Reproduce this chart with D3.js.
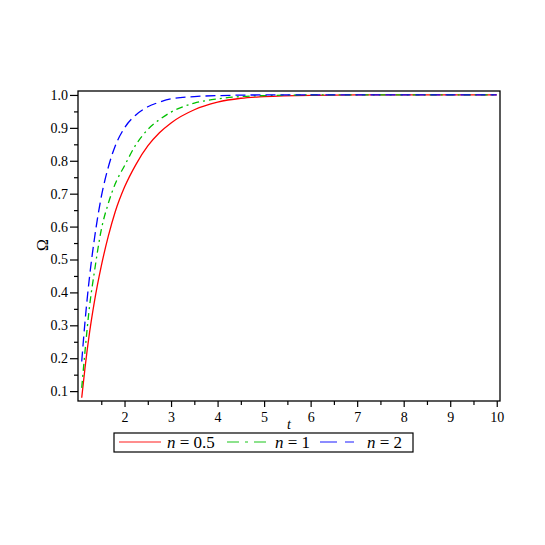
<!DOCTYPE html>
<html lang="en">
<head>
<meta charset="UTF-8">
<title>Omega vs t</title>
<script src="https://d3js.org/d3.v7.min.js"></script>
<style>
  body { margin: 0; background: #fff; }
</style>
</head>
<body>
<div id="chart"></div>
<script>
// values
const tRed   = [1.08, 1.15, 1.25, 1.35, 1.5, 1.65, 1.8, 2.0, 2.25, 2.5, 2.75, 3.0, 3.5, 4.0, 4.5, 5.0, 6.0, 7.0, 8.0, 9.0, 10.0];
const omRed  = [0.08, 0.17, 0.28, 0.37, 0.48, 0.57, 0.645, 0.72, 0.79, 0.845, 0.885, 0.915, 0.955, 0.978, 0.99, 0.995, 0.999, 1.0, 1.0, 1.0, 1.0];
const tGreen  = [1.08, 1.15, 1.25, 1.35, 1.5, 1.65, 1.8, 2.0, 2.25, 2.5, 2.75, 3.0, 3.5, 4.0, 4.5, 5.0, 6.0, 7.0, 8.0, 9.0, 10.0];
const omGreen = [0.11, 0.22, 0.36, 0.46, 0.59, 0.67, 0.73, 0.785, 0.85, 0.895, 0.925, 0.948, 0.975, 0.988, 0.995, 0.998, 1.0, 1.0, 1.0, 1.0, 1.0];
const tBlue  = [1.08, 1.15, 1.25, 1.35, 1.5, 1.65, 1.8, 2.0, 2.25, 2.5, 2.75, 3.0, 3.5, 4.0, 5.0, 6.0, 7.0, 8.0, 9.0, 10.0];
const omBlue = [0.19, 0.31, 0.45, 0.56, 0.69, 0.78, 0.845, 0.9, 0.94, 0.964, 0.978, 0.988, 0.995, 0.998, 1.0, 1.0, 1.0, 1.0, 1.0, 1.0];

const xTicks = [2, 3, 4, 5, 6, 7, 8, 9, 10];
const xMinor = [1.5, 2.5, 3.5, 4.5, 5.5, 6.5, 7.5, 8.5, 9.5];
const yTicks = [0.1, 0.2, 0.3, 0.4, 0.5, 0.6, 0.7, 0.8, 0.9, 1.0];
const yMinor = [0.15, 0.25, 0.35, 0.45, 0.55, 0.65, 0.75, 0.85, 0.95];

const legendNames = ["0.5", "1", "2"];

const W = 545, H = 545;
const L = 78, R = 500, T = 91, B = 401;
const serif = "Liberation Serif";

const svg = d3.select("#chart").append("svg")
  .attr("width", W).attr("height", H);

const x = d3.scaleLinear().domain([1, 10.07]).range([L, R]);
const y = d3.scaleLinear().domain([0.07, 1.012]).range([B, T]);

// frame
svg.append("rect")
  .attr("x", L).attr("y", T).attr("width", R - L).attr("height", B - T)
  .attr("fill", "none").attr("stroke", "#000").attr("stroke-width", 1.3);

// x axis
const gx = svg.append("g").attr("transform", `translate(0,${B})`);
gx.call(d3.axisBottom(x).tickValues(xTicks).tickSize(6).tickPadding(4).tickFormat(d3.format("d")));
gx.append("g").call(d3.axisBottom(x).tickValues(xMinor).tickSize(4).tickFormat(""));
gx.selectAll(".domain").remove();
gx.selectAll("text").attr("font-size", 14).attr("fill", "#000")
  .attr("font-family", serif).attr("dy", "0.8em");

// y axis
const gy = svg.append("g").attr("transform", `translate(${L},0)`);
gy.call(d3.axisLeft(y).tickValues(yTicks).tickSize(8).tickPadding(2).tickFormat(d3.format(".1f")));
gy.append("g").call(d3.axisLeft(y).tickValues(yMinor).tickSize(4).tickFormat(""));
gy.selectAll(".domain").remove();
gy.selectAll("text").attr("font-size", 14).attr("fill", "#000")
  .attr("font-family", serif);

svg.selectAll(".tick line").attr("stroke", "#000").attr("stroke-width", 1.2);

// axis titles
svg.append("text")
  .attr("x", 289).attr("y", 429)
  .attr("text-anchor", "middle").attr("font-size", 14).attr("font-style", "italic")
  .attr("font-family", serif)
  .text("t");
svg.append("text")
  .attr("transform", "translate(48,245) rotate(-90)")
  .attr("text-anchor", "middle").attr("font-size", 16)
  .attr("font-family", serif)
  .text("Ω");

// curves
const series = [
  { t: tRed, v: omRed, color: "#ff0000", dash: null, ldash: null },
  { t: tGreen, v: omGreen, color: "#00c000", dash: "7,4,2,4", ldash: "12,6,3,6" },
  { t: tBlue, v: omBlue, color: "#0000ff", dash: "10,5", ldash: "17,8" }
];

const line = d3.line().curve(d3.curveMonotoneX)
  .x(d => x(d[0])).y(d => y(d[1]));

series.forEach(s => {
  svg.append("path")
    .datum(d3.zip(s.t, s.v))
    .attr("fill", "none")
    .attr("stroke", s.color)
    .attr("stroke-width", 1.3)
    .attr("stroke-dasharray", s.dash)
    .attr("d", line);
});

// legend
const lg = svg.append("g");
lg.append("rect")
  .attr("x", 114).attr("y", 433).attr("width", 299).attr("height", 19)
  .attr("fill", "#fff").attr("stroke", "#000").attr("stroke-width", 1.2);
const lineX = [119, 227, 320];
const lineW = [42, 40, 34];
const textX = [167, 275, 367];
series.forEach((s, i) => {
  lg.append("line")
    .attr("x1", lineX[i]).attr("x2", lineX[i] + lineW[i])
    .attr("y1", 442).attr("y2", 442)
    .attr("stroke", s.color).attr("stroke-opacity", 0.6).attr("stroke-width", 1.3)
    .attr("stroke-dasharray", s.ldash);
  const tx = lg.append("text").attr("x", textX[i]).attr("y", 448)
    .attr("font-size", 17).attr("font-family", serif);
  tx.append("tspan").attr("font-style", "italic").text("n");
  tx.append("tspan").text(" = " + legendNames[i]);
});
</script>
</body>
</html>
